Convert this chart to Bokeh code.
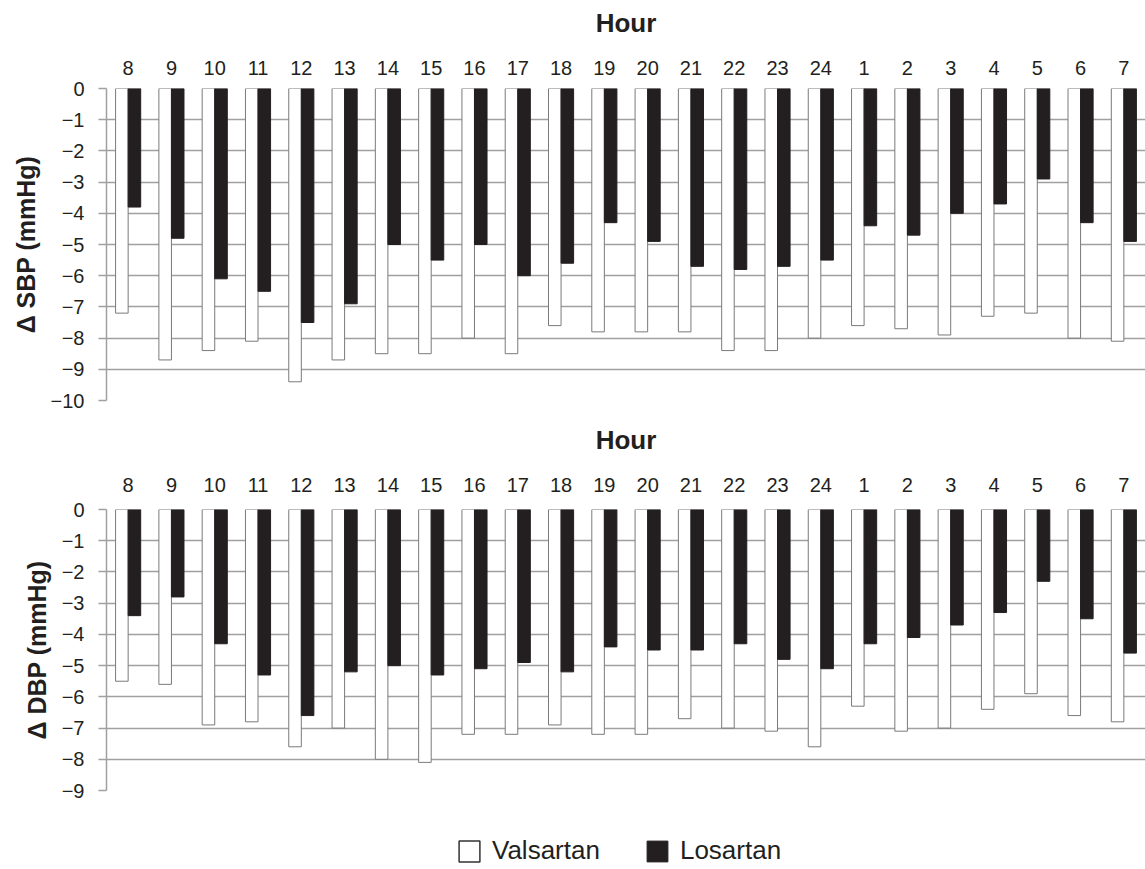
from bokeh.plotting import figure
from bokeh.models import (ColumnDataSource, Range1d, FixedTicker, Legend, LegendItem,
                          BoxAnnotation)
from bokeh.transform import dodge
from bokeh.layouts import column
from bokeh.embed import file_html
from bokeh.resources import INLINE

hours = ["8", "9", "10", "11", "12", "13", "14", "15", "16", "17", "18", "19",
         "20", "21", "22", "23", "24", "1", "2", "3", "4", "5", "6", "7"]

sbp_valsartan = [-7.2, -8.7, -8.4, -8.1, -9.4, -8.7, -8.5, -8.5, -8.0, -8.5, -7.6, -7.8,
                 -7.8, -7.8, -8.4, -8.4, -8.0, -7.6, -7.7, -7.9, -7.3, -7.2, -8.0, -8.1]
sbp_losartan = [-3.8, -4.8, -6.1, -6.5, -7.5, -6.9, -5.0, -5.5, -5.0, -6.0, -5.6, -4.3,
                -4.9, -5.7, -5.8, -5.7, -5.5, -4.4, -4.7, -4.0, -3.7, -2.9, -4.3, -4.9]

dbp_valsartan = [-5.5, -5.6, -6.9, -6.8, -7.6, -7.0, -8.0, -8.1, -7.2, -7.2, -6.9, -7.2,
                 -7.2, -6.7, -7.0, -7.1, -7.6, -6.3, -7.1, -7.0, -6.4, -5.9, -6.6, -6.8]
dbp_losartan = [-3.4, -2.8, -4.3, -5.3, -6.6, -5.2, -5.0, -5.3, -5.1, -4.9, -5.2, -4.4,
                -4.5, -4.5, -4.3, -4.8, -5.1, -4.3, -4.1, -3.7, -3.3, -2.3, -3.5, -4.6]

sbp_ticks = [0, -1, -2, -3, -4, -5, -6, -7, -8, -9, -10]
dbp_ticks = [0, -1, -2, -3, -4, -5, -6, -7, -8, -9]

series_names = ["Valsartan", "Losartan"]

FONT = "Liberation Sans"
GRID = "#a0a0a0"
DARK = "#231f20"
W_LEFT = 106
FRAME_W = 1039
BAR_W = 0.29


def make_panel(src, ticks, ylabel, top_border, bottom_border, frame_h,
               tick_standoff, label_standoff):
    p = figure(x_range=hours, y_range=Range1d(min(ticks), 0),
               x_axis_location="above", output_backend="svg", toolbar_location=None,
               frame_width=FRAME_W, frame_height=frame_h,
               min_border_left=W_LEFT, min_border_right=0,
               min_border_top=top_border, min_border_bottom=bottom_border)
    p.outline_line_color = None
    p.background_fill_color = "white"
    p.border_fill_color = "white"
    p.xgrid.grid_line_color = None
    p.ygrid.grid_line_color = GRID
    p.ygrid.grid_line_width = 1.5
    p.yaxis.ticker = FixedTicker(ticks=ticks)
    p.ygrid.ticker = FixedTicker(ticks=ticks)
    p.yaxis.major_label_overrides = {t: str(t).replace("-", "\u2212") for t in ticks}

    p.vbar(x=dodge("hour", -BAR_W / 2, range=p.x_range), top=0, bottom="val",
           width=BAR_W, source=src, fill_color="white", line_color="#7a7a7a",
           line_width=1)
    p.vbar(x=dodge("hour", BAR_W / 2, range=p.x_range), top=0, bottom="los",
           width=BAR_W, source=src, fill_color=DARK, line_color=DARK, line_width=1)

    xa = p.xaxis[0]
    xa.axis_label = "Hour"
    xa.axis_label_text_font = FONT
    xa.axis_label_text_font_style = "bold"
    xa.axis_label_text_font_size = "26px"
    xa.axis_label_text_color = DARK
    xa.axis_label_standoff = label_standoff
    xa.major_label_text_font = FONT
    xa.major_label_text_font_size = "20px"
    xa.major_label_text_color = DARK
    xa.major_label_standoff = tick_standoff
    xa.axis_line_color = None
    xa.major_tick_line_color = None
    xa.minor_tick_line_color = None

    ya = p.yaxis[0]
    ya.axis_label = ylabel
    ya.axis_label_text_font = FONT
    ya.axis_label_text_font_style = "bold"
    ya.axis_label_text_font_size = "25px"
    ya.axis_label_text_color = DARK
    ya.axis_label_standoff = 8
    ya.major_label_text_font = FONT
    ya.major_label_text_font_size = "20px"
    ya.major_label_text_color = DARK
    ya.major_label_standoff = 14
    ya.axis_line_color = GRID
    ya.axis_line_width = 1.5
    ya.major_tick_line_color = GRID
    ya.major_tick_line_width = 1.5
    ya.major_tick_out = 8
    ya.major_tick_in = 0
    ya.minor_tick_line_color = None
    return p


src1 = ColumnDataSource(data=dict(hour=hours, val=sbp_valsartan, los=sbp_losartan))
src2 = ColumnDataSource(data=dict(hour=hours, val=dbp_valsartan, los=dbp_losartan))

p1 = make_panel(src1, sbp_ticks, "\u0394 SBP (mmHg)", 88, 21, 312, 8, 20)
p2 = make_panel(src2, dbp_ticks, "\u0394 DBP (mmHg)", 88, 12, 281, 12, 20)

# legend strip: its key renderers share the DBP data but their range is far away
p3 = figure(x_range=hours, y_range=Range1d(100, 101), output_backend="svg",
            toolbar_location=None, frame_width=FRAME_W, frame_height=64,
            min_border_left=W_LEFT, min_border_right=0, min_border_top=0,
            min_border_bottom=0, x_axis_type=None, y_axis_type=None)
p3.outline_line_color = None
p3.background_fill_color = "white"
p3.border_fill_color = "white"
p3.xgrid.grid_line_color = None
p3.ygrid.grid_line_color = None
r_val = p3.vbar(x=dodge("hour", -BAR_W / 2, range=p3.x_range), top=0, bottom="val",
                width=BAR_W, source=src2, fill_color="white",
                line_color="#333333", line_width=1.5)
r_los = p3.vbar(x=dodge("hour", BAR_W / 2, range=p3.x_range), top=0, bottom="los",
                width=BAR_W, source=src2, fill_color=DARK, line_color=DARK)
# white cover so nothing of the off-range key renderers shows at the strip's edge
p3.add_layout(BoxAnnotation(fill_color="white", fill_alpha=1.0, line_color=None))
legend = Legend(items=[LegendItem(label=series_names[0], renderers=[r_val]),
                       LegendItem(label=series_names[1], renderers=[r_los])],
                orientation="horizontal", location=(350, 0),
                glyph_width=26, glyph_height=26, label_standoff=10, spacing=44,
                padding=2, border_line_color=None, background_fill_alpha=0,
                label_text_font=FONT, label_text_font_size="26px",
                label_text_color=DARK, label_height=26)
p3.add_layout(legend, "center")

layout = column(p1, p2, p3)
open("out.html", "w").write(file_html(layout, INLINE))
